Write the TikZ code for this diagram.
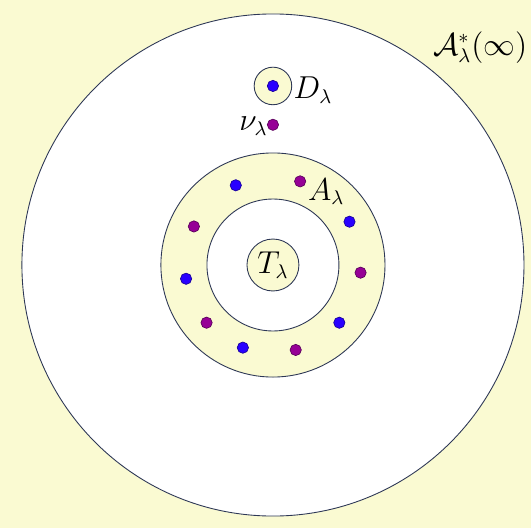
\documentclass[tikz,border=0pt]{standalone}
\usepackage{xcolor}
\usetikzlibrary{math}
\definecolor{mybg}{RGB}{250,250,210}
\definecolor{myblue}{RGB}{40,0,255}
\definecolor{mypurple}{RGB}{150,0,150}
\definecolor{myline}{RGB}{45,55,85}
\tikzset{lbl/.style={font=\fontsize{13.5pt}{16pt}\selectfont, inner sep=1pt}}

\begin{document}
\begin{tikzpicture}[scale=1]
\tikzmath{
\R=4.01;
\Ra=1.79;
\Rb=1.054;
\Rt=0.415;
\yD=2.86;
\Rd=0.30;
\ynu=2.24;
\rdot=0.09;
\rring=1.405;
}
\useasboundingbox (-4.36,-4.265) rectangle (4.12,4.233);
%background
\fill[mybg] (-4.36,-4.2) rectangle (4.12,4.233);
%big disc
\filldraw[fill=white, draw=myline, line width=0.4pt] (0,0) circle (\R);
\node[lbl] (Ainf) at (3.31,3.48) {$\mathcal{A}^*_\lambda(\infty)$};
%annulus
\filldraw[fill=mybg, draw=myline, line width=0.4pt] (0,0) circle (\Ra);
\filldraw[fill=white, draw=myline, line width=0.4pt] (0,0) circle (\Rb);
\node[lbl] (A) at (0.85,1.17) {$A_\lambda$};
%points on the annulus
\foreach \a/\c in {115/myblue,72/mypurple,29.5/myblue,-5/mypurple,-41/myblue,-75/mypurple,-110/myblue,-139/mypurple,-171/myblue,154/mypurple}
  \filldraw[fill=\c, draw=\c!60!black, line width=0.3pt] (\a:\rring) circle (\rdot);
%inner disc
\filldraw[fill=mybg, draw=myline, line width=0.4pt] (0,0) circle (\Rt);
\node[lbl] (T) at (0,0) {$T_\lambda$};
%small disc
\filldraw[fill=mybg, draw=myline, line width=0.4pt] (0,\yD) circle (\Rd);
\filldraw[fill=myblue, draw=myblue!60!black, line width=0.3pt] (0,\yD) circle (\rdot);
\node[lbl] (D) at (0.64,2.795) {$D_\lambda$};
%nu
\filldraw[fill=mypurple, draw=mypurple!60!black, line width=0.3pt] (0,\ynu) circle (\rdot);
\node[lbl] (nu) at (-0.31,2.22) {$\nu_\lambda$};
\end{tikzpicture}
\end{document}
